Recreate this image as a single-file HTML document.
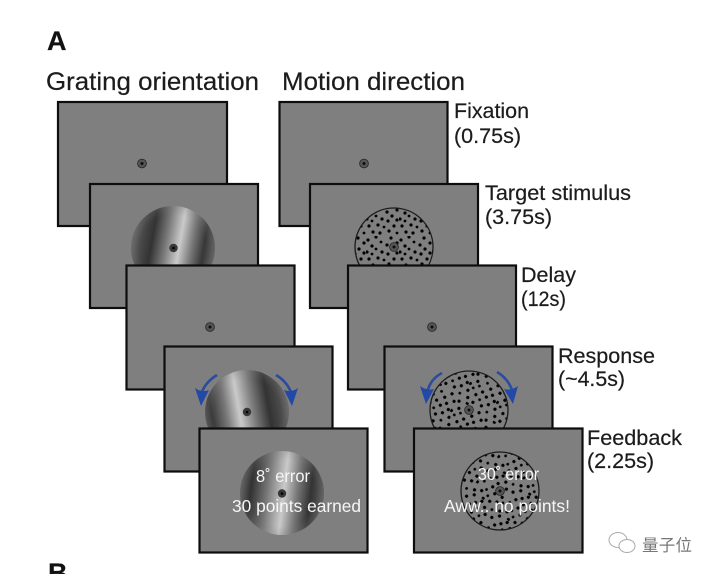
<!DOCTYPE html>
<html><head><meta charset="utf-8"><style>
html,body{margin:0;padding:0;background:#fff}
svg{display:block}
text{font-family:"Liberation Sans",sans-serif;fill:#1c1c1c;stroke:#1c1c1c;stroke-width:.2}
.w{fill:#f6f6f6;stroke:none;font-size:17.5px}
.l{font-size:21px}
.p{fill:#7f7f7f;stroke:#111;stroke-width:2.2}
.a{fill:none;stroke:#2b4ba0;stroke-width:2.6}
.h{fill:#2448a8}
</style></head><body>
<svg width="714" height="574" viewBox="0 0 714 574" xmlns="http://www.w3.org/2000/svg">
<defs>
<filter id="b" x="-5%" y="-5%" width="110%" height="110%"><feGaussianBlur stdDeviation="0.35"/></filter>
<linearGradient id="g1" gradientTransform="rotate(10 .5 .5)">
<stop offset="0" stop-color="#666"/><stop offset=".12" stop-color="#484848"/><stop offset=".24" stop-color="#333"/><stop offset=".4" stop-color="#777"/><stop offset=".57" stop-color="#cacaca"/><stop offset=".72" stop-color="#777"/><stop offset=".86" stop-color="#383838"/><stop offset="1" stop-color="#5c5c5c"/>
</linearGradient>
<linearGradient id="g2" gradientTransform="rotate(-10 .5 .5)">
<stop offset="0" stop-color="#4a4a4a"/><stop offset=".08" stop-color="#383838"/><stop offset=".25" stop-color="#777"/><stop offset=".41" stop-color="#cacaca"/><stop offset=".58" stop-color="#7c7c7c"/><stop offset=".76" stop-color="#333"/><stop offset=".9" stop-color="#4a4a4a"/><stop offset="1" stop-color="#666"/>
</linearGradient>
<linearGradient id="g3" gradientTransform="rotate(7 .5 .5)">
<stop offset="0" stop-color="#5c5c5c"/><stop offset=".13" stop-color="#333"/><stop offset=".32" stop-color="#777"/><stop offset=".52" stop-color="#cacaca"/><stop offset=".68" stop-color="#777"/><stop offset=".84" stop-color="#333"/><stop offset="1" stop-color="#5c5c5c"/>
</linearGradient>
<radialGradient id="fade"><stop offset=".8" stop-color="#7f7f7f" stop-opacity="0"/><stop offset="1" stop-color="#7f7f7f" stop-opacity=".25"/></radialGradient>
<g id="dots" fill="#000">
<circle cx="2" cy="4" r="1.6"/><circle cx="10" cy="1" r="1.6"/><circle cx="15" cy="6" r="1.4"/><circle cx="25" cy="2" r="1.6"/><circle cx="31" cy="7" r="1.6"/>
<circle cx="6" cy="10" r="1.6"/><circle cx="10" cy="13" r="1.4"/><circle cx="21" cy="9" r="1.6"/><circle cx="26" cy="13" r="1.6"/>
<circle cx="1" cy="16" r="1.6"/><circle cx="6" cy="18" r="1.4"/><circle cx="16" cy="16" r="1.6"/><circle cx="22" cy="18" r="1.6"/><circle cx="31" cy="17" r="1.6"/>
<circle cx="3" cy="23" r="1.6"/><circle cx="12" cy="22" r="1.6"/><circle cx="18" cy="24" r="1.4"/><circle cx="28" cy="23" r="1.6"/>
<circle cx="7" cy="29" r="1.6"/><circle cx="14" cy="30" r="1.6"/><circle cx="23" cy="28" r="1.6"/><circle cx="31" cy="30" r="1.4"/>
</g>
<pattern id="d1" width="33" height="33" patternUnits="userSpaceOnUse" patternTransform="translate(3 5)"><use href="#dots"/></pattern>
<pattern id="d2" width="33" height="33" patternUnits="userSpaceOnUse" patternTransform="translate(11 2) rotate(35)"><use href="#dots"/></pattern>
<pattern id="d3" width="33" height="33" patternUnits="userSpaceOnUse" patternTransform="translate(7 14) rotate(-50)"><use href="#dots"/></pattern>
<g id="fx"><circle r="4.2" fill="#383838"/><circle r="1.3" fill="#000"/></g>
<g id="fr"><circle r="4.4" fill="#555" stroke="#222" stroke-width=".8"/><circle r="1.5" fill="#111"/></g>
</defs>

<rect width="714" height="574" fill="#fff"/>

<g filter="url(#b)">
<!-- left column -->
<rect class="p" x="58" y="102" width="169" height="124"/>
<use href="#fr" x="142" y="163.5"/>
<rect class="p" x="90" y="184" width="168" height="124"/>
<circle cx="173" cy="248" r="42" fill="url(#g1)"/><circle cx="173" cy="248" r="42" fill="url(#fade)"/>
<use href="#fx" x="173.500" y="248"/>
<rect class="p" x="126.500" y="265.500" width="168" height="124"/>
<use href="#fr" x="210" y="327"/>
<rect class="p" x="164.500" y="346.500" width="168" height="125"/>
<circle cx="247" cy="412" r="42" fill="url(#g2)"/><circle cx="247" cy="412" r="42" fill="url(#fade)"/>
<use href="#fx" x="247" y="412"/>
<path class="a" d="M217 375 Q204 383 201 395"/><path class="h" d="M195 388 L201 406 L209 390 Q202 393 195 388Z"/>
<path class="a" d="M276 375 Q288 382 292 395"/><path class="h" d="M284 390 L292 406 L298 388 Q291 393 284 390Z"/>
<rect class="p" x="199.500" y="428.500" width="168" height="124"/>
<circle cx="282" cy="493" r="42" fill="url(#g3)"/><circle cx="282" cy="493" r="42" fill="url(#fade)"/>
<use href="#fx" x="282" y="493.500"/>

<!-- right column -->
<rect class="p" x="279.500" y="102" width="168" height="124"/>
<use href="#fr" x="364" y="163.500"/>
<rect class="p" x="310" y="184" width="168" height="124"/>
<circle cx="394" cy="247" r="39" fill="#7f7f7f"/><circle cx="394" cy="247" r="39" fill="url(#d1)" stroke="#1a1a1a" stroke-width="1.300"/>
<use href="#fr" x="394" y="247"/>
<rect class="p" x="348" y="265.500" width="168" height="124"/>
<use href="#fr" x="432" y="327"/>
<rect class="p" x="384.500" y="346.500" width="168" height="125"/>
<circle cx="469" cy="410" r="39" fill="#7f7f7f"/><circle cx="469" cy="410" r="39" fill="url(#d2)" stroke="#1a1a1a" stroke-width="1.300"/>
<use href="#fr" x="469" y="410"/>
<path class="a" d="M442 373 Q430 379 427 393"/><path class="h" d="M420 386 L426 404 L434 389 Q427 391 420 386Z"/>
<path class="a" d="M497 372 Q509 379 513 393"/><path class="h" d="M504 389 L513 404 L518 386 Q511 391 504 389Z"/>
<rect class="p" x="414" y="428.500" width="168.500" height="124"/>
<circle cx="500" cy="491" r="39" fill="#7f7f7f"/><circle cx="500" cy="491" r="39" fill="url(#d3)" stroke="#1a1a1a" stroke-width="1.300"/>
<use href="#fr" x="500" y="491"/>
</g>

<text class="w" x="256" y="482" textLength="54" lengthAdjust="spacingAndGlyphs">8˚ error</text>
<text class="w" x="232" y="512" textLength="129" lengthAdjust="spacingAndGlyphs">30 points earned</text>
<text class="w" x="478" y="480" textLength="61" lengthAdjust="spacingAndGlyphs">30˚ error</text>
<text class="w" x="444" y="512" textLength="126" lengthAdjust="spacingAndGlyphs">Aww.. no points!</text>

<text x="47" y="50" font-size="27" font-weight="bold" style="fill:#111">A</text>
<text x="48" y="582" font-size="27" font-weight="bold" style="fill:#111">B</text>
<text x="46" y="90" font-size="25" textLength="213" lengthAdjust="spacingAndGlyphs">Grating orientation</text>
<text x="282" y="90" font-size="25" textLength="183" lengthAdjust="spacingAndGlyphs">Motion direction</text>

<text class="l" x="454" y="118" textLength="75" lengthAdjust="spacingAndGlyphs">Fixation</text>
<text class="l" x="454" y="143" textLength="67" lengthAdjust="spacingAndGlyphs">(0.75s)</text>
<text class="l" x="485" y="200" textLength="146" lengthAdjust="spacingAndGlyphs">Target stimulus</text>
<text class="l" x="485" y="224" textLength="67" lengthAdjust="spacingAndGlyphs">(3.75s)</text>
<text class="l" x="521" y="282" textLength="55" lengthAdjust="spacingAndGlyphs">Delay</text>
<text class="l" x="521" y="306" textLength="45" lengthAdjust="spacingAndGlyphs">(12s)</text>
<text class="l" x="558" y="363" textLength="97" lengthAdjust="spacingAndGlyphs">Response</text>
<text class="l" x="558" y="386" textLength="67" lengthAdjust="spacingAndGlyphs">(~4.5s)</text>
<text class="l" x="587" y="445" textLength="95" lengthAdjust="spacingAndGlyphs">Feedback</text>
<text class="l" x="587" y="468" textLength="67" lengthAdjust="spacingAndGlyphs">(2.25s)</text>

<!-- watermark -->
<g fill="#fff" stroke="#aaa" stroke-width="1">
<ellipse cx="618" cy="540" rx="9" ry="7.500"/>
<ellipse cx="627" cy="546" rx="8" ry="6.500"/>
</g>
<text x="642" y="551" font-size="16.500" textLength="50" style="font-family:'Liberation Sans','Noto Sans CJK SC',sans-serif;fill:#777;stroke:none">量子位</text>
</svg>
</body></html>
